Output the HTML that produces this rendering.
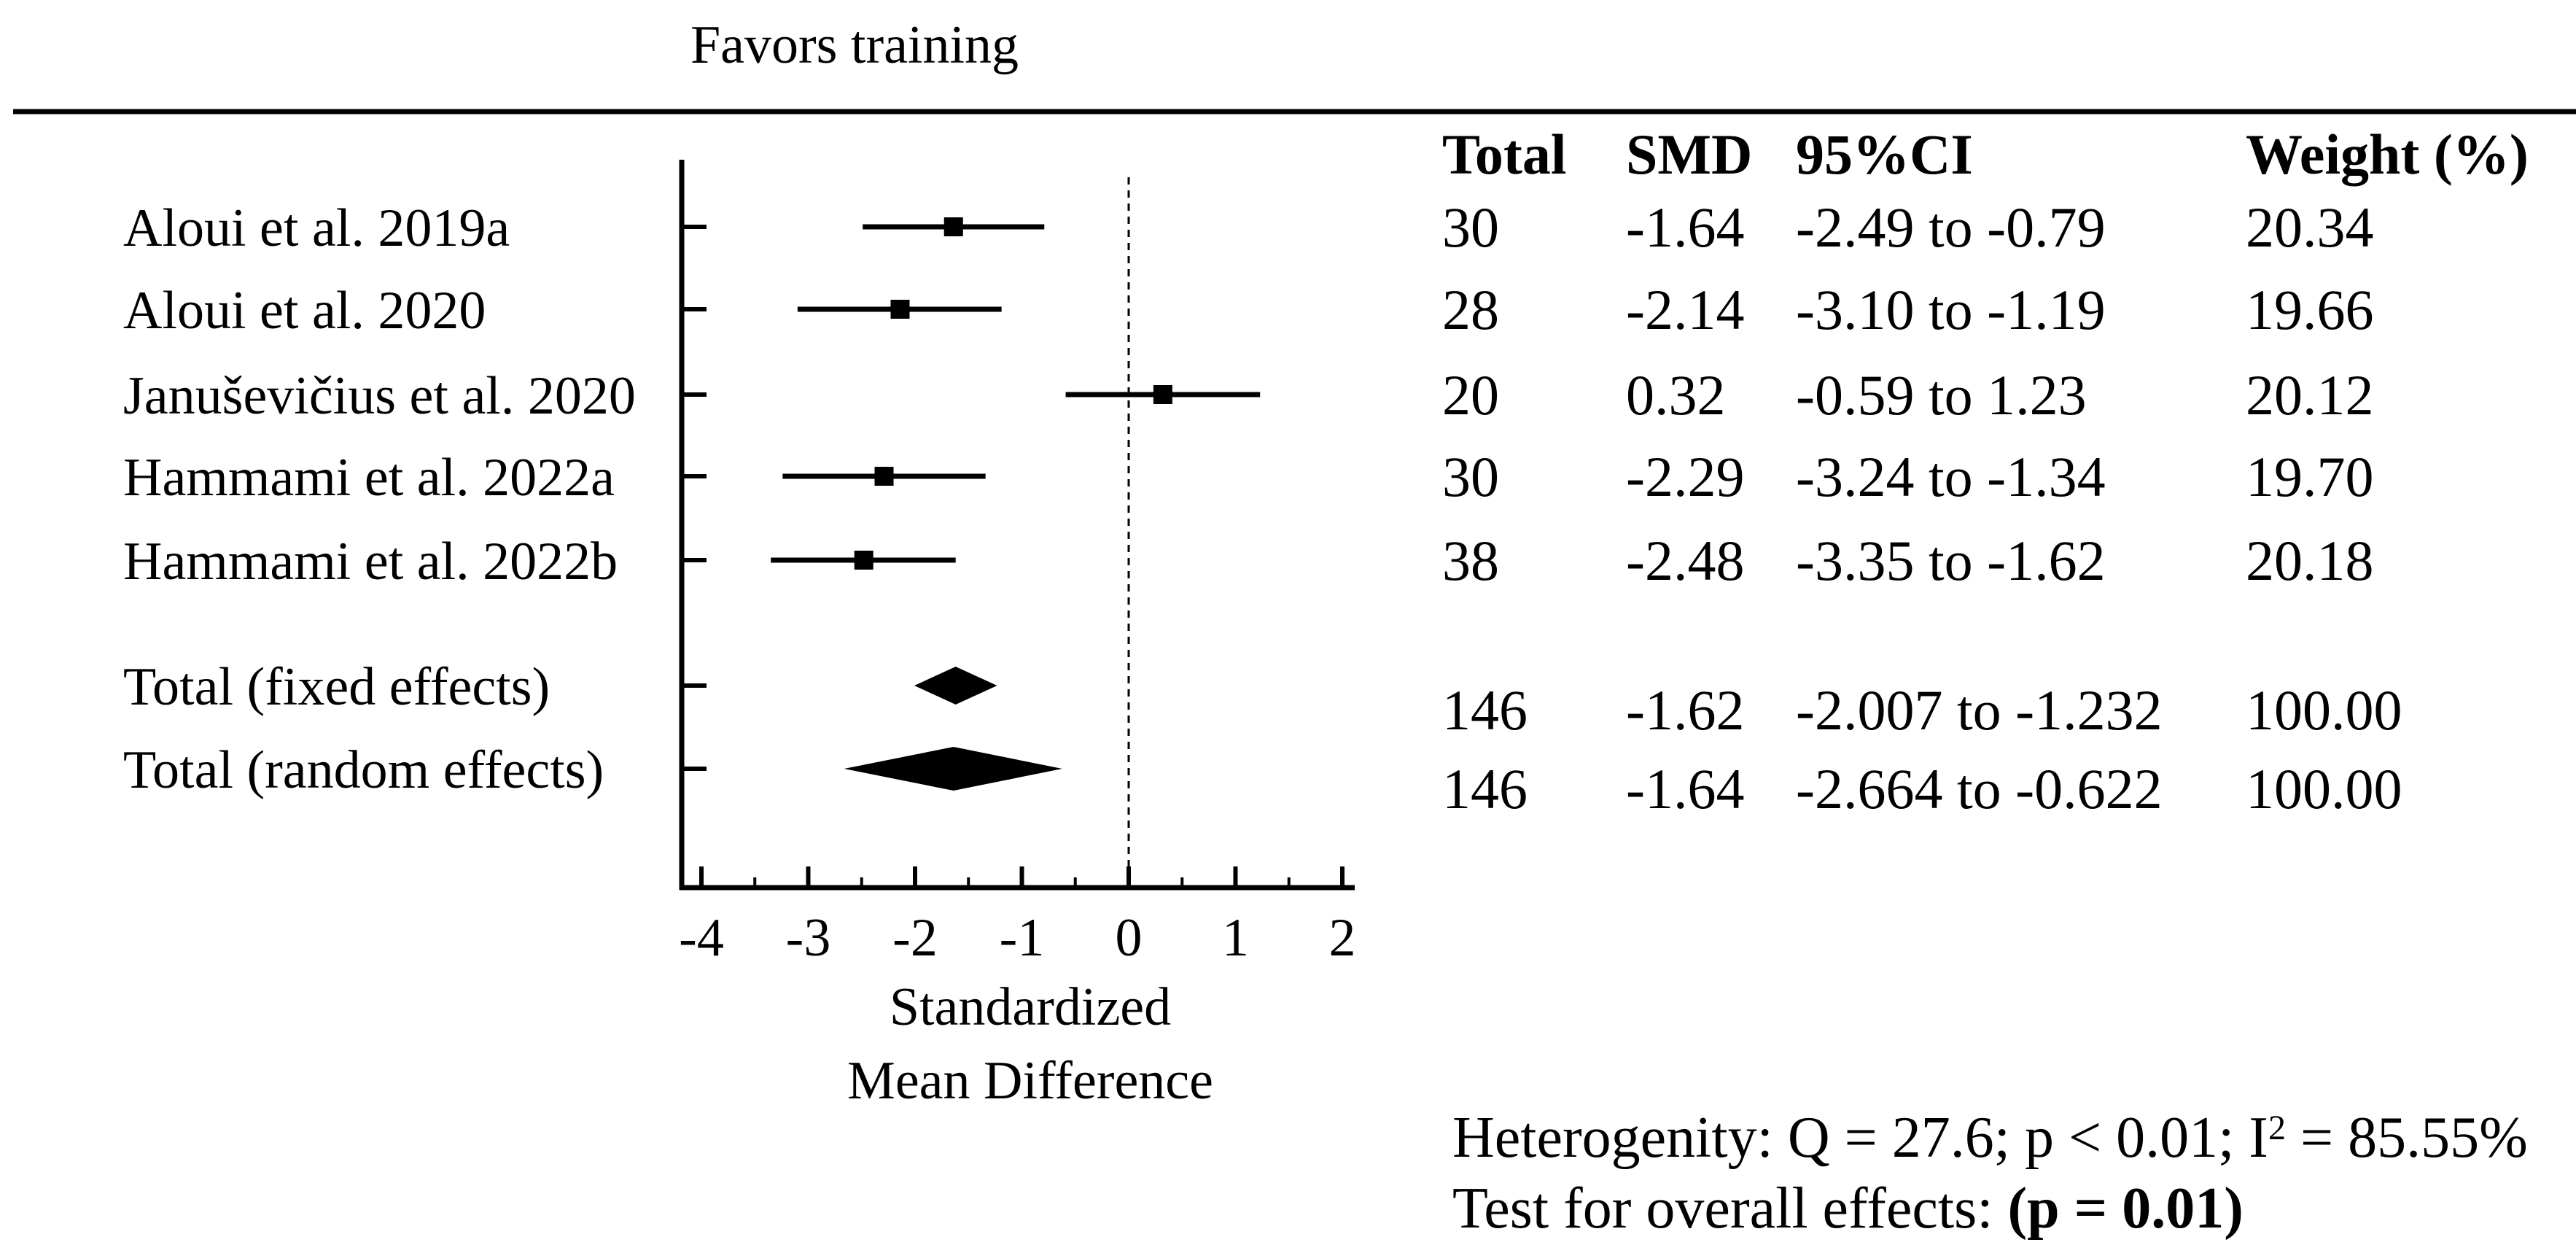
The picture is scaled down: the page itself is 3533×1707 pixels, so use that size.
<!DOCTYPE html>
<html><head><meta charset="utf-8"><style>
html,body{margin:0;padding:0;background:#fff;}
svg{display:block;font-family:"Liberation Serif",serif;}
</style></head><body>
<svg id="chart" width="3533" height="1707" viewBox="0 0 3533 1707">
<text x="1172" y="86" font-size="74" text-anchor="middle">Favors training</text>
<line x1="18" y1="153" x2="3533" y2="153" stroke="#000" stroke-width="7"/>
<g id="plot"></g>
<g id="table" font-size="78"></g>
<text x="1413" y="1405" font-size="74" text-anchor="middle">Standardized</text>
<text x="1413" y="1506" font-size="74" text-anchor="middle">Mean Difference</text>
<text x="1992" y="1586" font-size="80">Heterogenity: Q = 27.6; p &lt; 0.01; I<tspan font-size="48" dy="-24">2</tspan><tspan dy="24"> = 85.55%</tspan></text>
<text x="1992" y="1683" font-size="80">Test for overall effects: <tspan font-weight="bold">(p = 0.01)</tspan></text>
</svg>
<script>
const studies = ["Aloui et al. 2019a","Aloui et al. 2020","Januševičius et al. 2020","Hammami et al. 2022a","Hammami et al. 2022b"];
const smd = [-1.64,-2.14,0.32,-2.29,-2.48];
const lower = [-2.49,-3.10,-0.59,-3.24,-3.35];
const upper = [-0.79,-1.19,1.23,-1.34,-1.62];
const totals = ["30","28","20","30","38"];
const weights = ["20.34","19.66","20.12","19.70","20.18"];
const pooledNames = ["Total (fixed effects)","Total (random effects)"];
const pooledSmd = [-1.62,-1.64];
const pooledLower = [-2.007,-2.664];
const pooledUpper = [-1.232,-0.622];
const pooledTotals = ["146","146"];
const pooledWeights = ["100.00","100.00"];
const xTicks = [-4,-3,-2,-1,0,1,2];

const NS="http://www.w3.org/2000/svg";
const plot=document.getElementById('plot');
const table=document.getElementById('table');
function X(v){return 1548+v*146.5;}
const rowY=[311,424,541,653,768];
const pooledY=[940,1054];
const tableRowY=[311,424,541,653,768];
const tablePooledY=[973,1081];
function mk(tag,attrs,parent){const e=document.createElementNS(NS,tag);for(const k in attrs)e.setAttribute(k,attrs[k]);(parent||plot).appendChild(e);return e;}

let yAx=mk('line',{x1:935,y1:219,x2:935,y2:1220,stroke:'#000','stroke-width':7});


let xAx=mk('line',{x1:932,y1:1217,x2:1858,y2:1217,stroke:'#000','stroke-width':7});


let zl=mk('line',{x1:X(0),y1:243,x2:X(0),y2:1217,stroke:'#000','stroke-width':3,'stroke-dasharray':'10,8'});



for(let i=0;i<xTicks.length;i++){
  const v=xTicks[i];
  let t=mk('line',{x1:X(v),y1:1217,x2:X(v),y2:1188,stroke:'#000','stroke-width':6});
  
  
  let l=mk('text',{x:X(v),y:1310,'font-size':74,'text-anchor':'middle'});
  l.textContent=(v<0?'-'+Math.abs(v):String(v));
  
  
  if(i<xTicks.length-1){
    let m=mk('line',{x1:X(v+0.5),y1:1217,x2:X(v+0.5),y2:1203,stroke:'#000','stroke-width':4});
    
    
  }
}
function rowTick(y){
  let t=mk('line',{x1:935,y1:y,x2:969,y2:y,stroke:'#000','stroke-width':6});
  
  
}
for(let i=0;i<studies.length;i++){
  const y=rowY[i];
  rowTick(y);
  let lb=mk('text',{x:169,y:y+26,'font-size':74});
  lb.textContent=studies[i];
  
  
  let ci=mk('line',{x1:X(lower[i]),y1:y,x2:X(upper[i]),y2:y,stroke:'#000','stroke-width':7});
  
  
  let sq=mk('rect',{x:X(smd[i])-13,y:y-13,width:26,height:26,fill:'#000'});
  
  
}
const dh=[26,30];
for(let i=0;i<pooledNames.length;i++){
  const y=pooledY[i];
  rowTick(y);
  let lb=mk('text',{x:169,y:y+26,'font-size':74});
  lb.textContent=pooledNames[i];
  
  
  const pts=[[X(pooledLower[i]),y],[X(pooledSmd[i]),y-dh[i]],[X(pooledUpper[i]),y],[X(pooledSmd[i]),y+dh[i]]].map(p=>p.join(',')).join(' ');
  let d=mk('polygon',{points:pts,fill:'#000'});
  
  
}
const colX=[1978,2230,2463,3080];
const heads=["Total","SMD","95%CI","Weight (%)"];
for(let c=0;c<4;c++){
  let h=mk('text',{x:colX[c],y:238,'font-weight':'bold'},table);
  h.textContent=heads[c];
  
  
}
function fmt(v){return v.toFixed(2);}
function tableRow(y,vals){
  for(let c=0;c<4;c++){
    let t=mk('text',{x:colX[c],y:y+27},table);
    t.textContent=vals[c];
    
    
  }
}
for(let i=0;i<studies.length;i++){
  tableRow(tableRowY[i],[totals[i],fmt(smd[i]),fmt(lower[i])+' to '+fmt(upper[i]),weights[i]]);
}
for(let i=0;i<pooledNames.length;i++){
  tableRow(tablePooledY[i],[pooledTotals[i],fmt(pooledSmd[i]),pooledLower[i].toFixed(3)+' to '+pooledUpper[i].toFixed(3),pooledWeights[i]]);
}
</script>
</body></html>
